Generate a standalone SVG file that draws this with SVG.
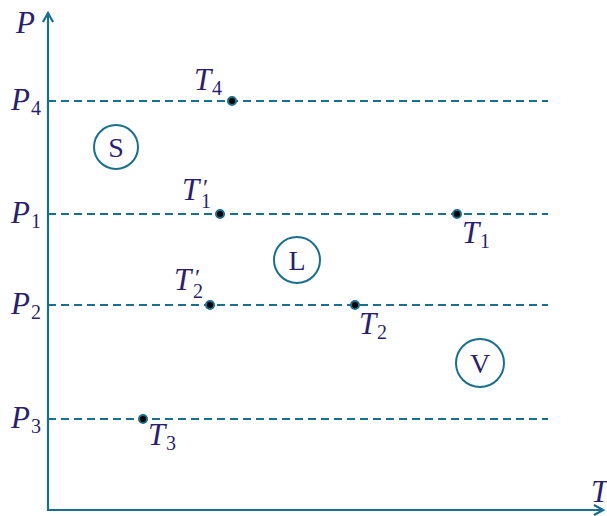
<svg xmlns="http://www.w3.org/2000/svg" width="607" height="516" viewBox="0 0 607 516">
<style>
.ax{stroke:#1a6e8e;stroke-width:2.2;fill:none}
.dash{stroke:#1a6e8e;stroke-width:1.8;stroke-dasharray:8 5;fill:none}
.dot{fill:#000;stroke:#1a6e8e;stroke-width:2}
.reg{fill:none;stroke:#1a6e8e;stroke-width:2}
text{font-family:"Liberation Serif","Times New Roman",serif;fill:#2a1f6e}
.m{font-style:italic;font-size:31px}
.sub{font-size:20px}
.pr{font-size:24px}
.r{font-size:28px;text-anchor:middle}
</style>
<defs>
<marker id="ah" viewBox="0 0 12 12" refX="10" refY="6" markerWidth="12" markerHeight="12" markerUnits="userSpaceOnUse" orient="auto">
<path d="M1,1 L10,6 L1,11" fill="none" stroke="#1a6e8e" stroke-width="2.2"/>
</marker>
</defs>
<g id="connectors">
<line class="ax" x1="48" y1="511" x2="48" y2="13" marker-end="url(#ah)"/>
<line class="ax" x1="47" y1="510" x2="603" y2="510" marker-end="url(#ah)"/>
<line class="dash" x1="48" y1="101" x2="548" y2="101"/>
<line class="dash" x1="48" y1="214" x2="548" y2="214"/>
<line class="dash" x1="48" y1="305" x2="548" y2="305"/>
<line class="dash" x1="48" y1="419" x2="548" y2="419"/>
</g>
<g id="axis-labels">
<text class="m" x="16" y="33">P</text>
<text class="m" x="591" y="502">T</text>
<text class="m" x="11" y="110">P</text><text class="sub" x="31" y="115">4</text>
<text class="m" x="11" y="223">P</text><text class="sub" x="31" y="228">1</text>
<text class="m" x="11" y="314">P</text><text class="sub" x="31" y="319">2</text>
<text class="m" x="11" y="428">P</text><text class="sub" x="31" y="433">3</text>
</g>
<g id="S"><circle class="reg" cx="116" cy="147" r="22"/><text class="r" x="116" y="157">S</text></g>
<g id="L"><circle class="reg" cx="297" cy="260" r="23"/><text class="r" x="297" y="270">L</text></g>
<g id="V"><circle class="reg" cx="480" cy="363" r="24"/><text class="r" x="480" y="373">V</text></g>
<g id="T4"><circle class="dot" cx="232" cy="101" r="4"/><text class="m" x="194" y="90">T</text><text class="sub" x="212" y="95">4</text></g>
<g id="T1p"><circle class="dot" cx="220" cy="214" r="4"/><text class="m" x="182" y="200">T</text><text class="pr" x="203" y="195">′</text><text class="sub" x="201" y="208">1</text></g>
<g id="T1"><circle class="dot" cx="457" cy="214" r="4"/><text class="m" x="462" y="243">T</text><text class="sub" x="480" y="248">1</text></g>
<g id="T2p"><circle class="dot" cx="210" cy="305" r="4"/><text class="m" x="174" y="290">T</text><text class="pr" x="195" y="285">′</text><text class="sub" x="193" y="298">2</text></g>
<g id="T2"><circle class="dot" cx="355" cy="305" r="4"/><text class="m" x="359" y="334">T</text><text class="sub" x="377" y="339">2</text></g>
<g id="T3"><circle class="dot" cx="143" cy="419" r="4"/><text class="m" x="148" y="445">T</text><text class="sub" x="166" y="450">3</text></g>
</svg>
